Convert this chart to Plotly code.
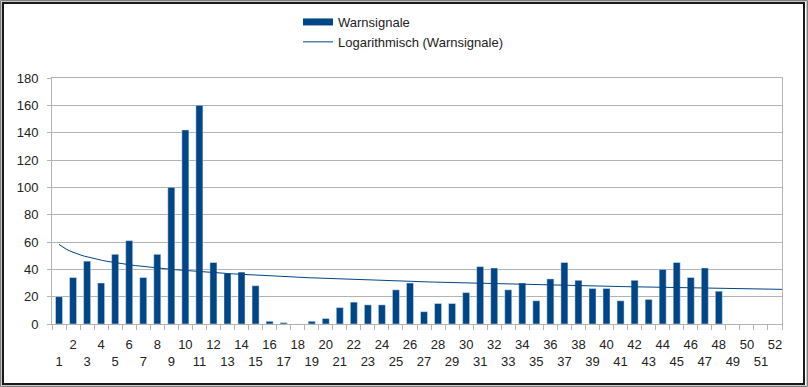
import numpy as np
import plotly.graph_objects as go

# ---- data ----
weeks = list(range(1, 53))
warnsignale = [20, 34, 46, 30, 51, 61, 34, 51, 100, 142, 160, 45, 37, 38, 28,
               2, 1, 0, 2, 4, 12, 16, 14, 14, 25, 30, 9, 15, 15, 23,
               42, 41, 25, 30, 17, 33, 45, 32, 26, 26, 17, 32, 18, 40, 45, 34, 41, 24,
               None, None, None, None]
tick_labels = [str(w) if w % 2 == 0 else "<br>" + str(w) for w in weeks]
y_ticks = [0, 20, 40, 60, 80, 100, 120, 140, 160, 180]

BAR_COLOR = "#004586"
W, H = 808, 387
L, R, T, B = 52, 26, 78, 63
PW, PH = W - L - R, H - T - B


def px_x(p):
    return (p - L) / PW


def px_y(p):
    return (H - B - p) / PH


# logarithmic trend line (least squares fit y = a + b*ln(x)) over the data present
xs = np.array([w for w, v in zip(weeks, warnsignale) if v is not None], float)
ys = np.array([v for v in warnsignale if v is not None], float)
b, a = np.polyfit(np.log(xs), ys, 1)
trend_x = np.linspace(1, len(weeks) + 0.5, 200)
trend_y = a + b * np.log(trend_x)

fig = go.Figure()
fig.add_trace(go.Bar(x=weeks, y=warnsignale, marker_color=BAR_COLOR, width=0.5,
                     showlegend=False, name="Warnsignale"))
# legend entries
fig.add_trace(go.Scatter(x=[None], y=[None], mode="lines", name="Warnsignale",
                         line=dict(color=BAR_COLOR, width=7), legendgroup="a"))
fig.add_trace(go.Scatter(x=trend_x, y=trend_y, mode="lines",
                         name="Logarithmisch (Warnsignale)",
                         line=dict(color=BAR_COLOR, width=1), legendgroup="b"))

font = dict(family="Liberation Sans, Arial, sans-serif", size=13, color="#222222")

shapes = [
    dict(type="rect", xref="paper", yref="paper",
         x0=px_x(0.5), x1=px_x(W - 0.5), y0=px_y(0.5), y1=px_y(H - 0.5),
         line=dict(color="#7f7f7f", width=1), layer="above"),
    dict(type="rect", xref="paper", yref="paper",
         x0=px_x(1.5), x1=px_x(W - 1.5), y0=px_y(1.5), y1=px_y(H - 1.5),
         line=dict(color="#c8c8c8", width=1), layer="above"),
    dict(type="rect", xref="paper", yref="paper",
         x0=px_x(3), x1=px_x(W - 4), y0=px_y(3), y1=px_y(H - 3),
         line=dict(color="#1a1a1a", width=2), layer="above"),
]

fig.update_layout(
    width=W, height=H,
    margin=dict(l=L, r=R, t=T, b=B, autoexpand=False),
    paper_bgcolor="white", plot_bgcolor="white",
    font=font,
    bargap=0.5,
    legend=dict(x=298 / W, y=1 - 7 / H, xref="container", yref="container",
                xanchor="left", yanchor="top",
                font=font, bgcolor="rgba(0,0,0,0)", traceorder="grouped",
                tracegroupgap=0, itemwidth=30),
    shapes=shapes,
    xaxis=dict(range=[0.5, 52.5], tickmode="array", tickvals=weeks, ticktext=tick_labels,
               ticks="", showgrid=False, zeroline=False, tickangle=0, automargin=False,
               showline=True, linecolor="#b3b3b3", linewidth=1, mirror=True,
               tickfont=font, ticklabelstandoff=8,
               minor=dict(tickmode="array", tickvals=[w - 0.5 for w in weeks] + [52.5],
                          ticks="outside", ticklen=5, tickcolor="#b3b3b3", showgrid=False)),
    yaxis=dict(range=[0, 180], tickmode="array", tickvals=y_ticks, automargin=False,
               ticks="outside", ticklen=4, tickcolor="#b3b3b3",
               showgrid=True, gridcolor="#b3b3b3", gridwidth=1, zeroline=False,
               showline=True, linecolor="#b3b3b3", linewidth=1, mirror=True,
               tickfont=font, ticklabelstandoff=6),
)

fig.write_html("out.html", config={"displayModeBar": False},
               post_script="document.body.style.margin='0';document.body.style.padding='0';")
